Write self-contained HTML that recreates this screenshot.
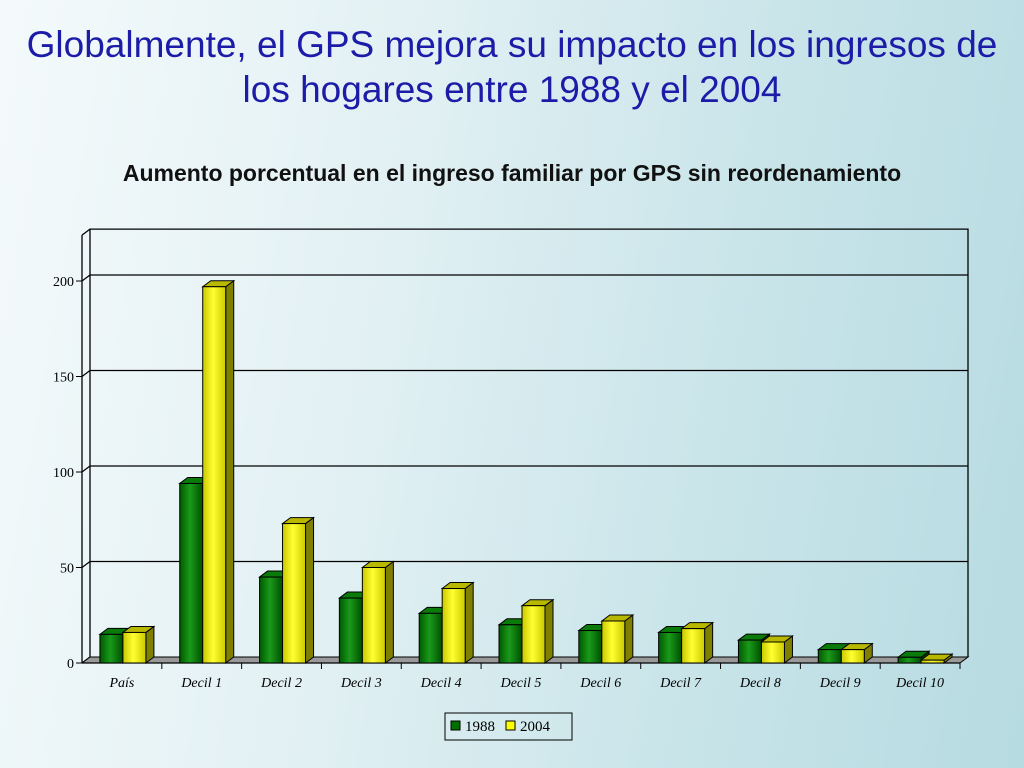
<!DOCTYPE html>
<html><head><meta charset="utf-8"><style>
html,body{margin:0;padding:0}
body{width:1024px;height:768px;overflow:hidden;position:relative;font-family:"Liberation Sans",sans-serif;
background:linear-gradient(100deg,#f4fafb 0%,#e3f1f4 35%,#c8e4e9 70%,#b6dbe1 100%);}
#title{position:absolute;left:0;top:22px;width:1024px;text-align:center;color:#1c1ca8;font-size:37px;line-height:45px}
#ctitle{position:absolute;left:0;top:160px;width:1024px;text-align:center;font-weight:bold;font-size:23px;color:#111}
svg{position:absolute;left:0;top:0}
</style></head><body>
<div id="title">Globalmente, el GPS mejora su impacto en los ingresos de<br>los hogares entre 1988 y el 2004</div>
<div id="ctitle">Aumento porcentual en el ingreso familiar por GPS sin reordenamiento</div>
<svg id="chart" width="1024" height="768"></svg>
<script>
const categories=["País","Decil 1","Decil 2","Decil 3","Decil 4","Decil 5","Decil 6","Decil 7","Decil 8","Decil 9","Decil 10"];
const series1988=[15,94,45,34,26,20,17,16,12,7,3];
const series2004=[16,197,73,50,39,30,22,18,11,7,1.5];
const yTicks=[0,50,100,150,200];
const seriesNames=["1988","2004"];
const NS="http://www.w3.org/2000/svg";
const svg=document.getElementById('chart');
const X0=82,X1=960,Y0=663,PX=1.91,DX=8,DY=-6,YMAX=224;
const y=v=>Y0-v*PX;
const catW=(X1-X0)/categories.length;
const cx=i=>X0+catW*(i+0.5);
function mk(tag,at,parent){const e=document.createElementNS(NS,tag);for(const k in at)e.setAttribute(k,at[k]);(parent||svg).appendChild(e);return e;}
const defs=mk('defs',{});
defs.innerHTML='<linearGradient id="gg" x1="0" x2="1"><stop offset="0" stop-color="#005a00"/><stop offset="0.45" stop-color="#1a9a1a"/><stop offset="1" stop-color="#005000"/></linearGradient><linearGradient id="yg" x1="0" x2="1"><stop offset="0" stop-color="#c8c800"/><stop offset="0.45" stop-color="#ffff30"/><stop offset="1" stop-color="#caca00"/></linearGradient>';
const wall=mk('path',{d:`M${X0} ${y(0)} L${X0+DX} ${y(0)+DY} L${X0+DX} ${y(YMAX)+DY} L${X1+DX} ${y(YMAX)+DY} L${X1+DX} ${y(0)+DY}`,fill:'none',stroke:'#000','stroke-width':1.3});


mk('line',{x1:X0,y1:y(0),x2:X0,y2:y(YMAX),stroke:'#000','stroke-width':1.3});
mk('line',{x1:X0,y1:y(YMAX),x2:X0+DX,y2:y(YMAX)+DY,stroke:'#000','stroke-width':1.3});
yTicks.forEach(t=>{
  if(t>0){const g=mk('path',{d:`M${X0} ${y(t)} L${X0+DX} ${y(t)+DY} L${X1+DX} ${y(t)+DY}`,fill:'none',stroke:'#000','stroke-width':1.2});
  
  }
  mk('line',{x1:X0-6,y1:y(t),x2:X0,y2:y(t),stroke:'#000'});
  const tx=mk('text',{x:X0-8,y:y(t)+5,'text-anchor':'end','font-family':'Liberation Serif','font-size':14});
  tx.textContent=t;
  
  
});
const fl=mk('path',{d:`M${X0} ${Y0} L${X0+DX} ${Y0+DY} L${X1+DX} ${Y0+DY} L${X1} ${Y0} Z`,fill:'#999',stroke:'#000','stroke-width':1});


mk('line',{x1:X0,y1:Y0,x2:X1,y2:Y0,stroke:'#000','stroke-width':1.3});
function bar(x,w,v,fill,side,top,name){
  const g=mk('g',{});
  
  
  const t=y(v);
  mk('path',{d:`M${x+w} ${Y0} L${x+w+DX} ${Y0+DY} L${x+w+DX} ${t+DY} L${x+w} ${t} Z`,fill:side,stroke:'#000','stroke-width':1},g);
  mk('path',{d:`M${x} ${t} L${x+DX} ${t+DY} L${x+w+DX} ${t+DY} L${x+w} ${t} Z`,fill:top,stroke:'#000','stroke-width':1},g);
  mk('rect',{x:x,y:t,width:w,height:Y0-t,fill:fill,stroke:'#000','stroke-width':1},g);
}
categories.forEach((c,i)=>{
  const c0=cx(i);
  bar(c0-22,23,series1988[i],'url(#gg)','#004000','#0a7a0a','bar-1988-'+i);
  bar(c0+1,23,series2004[i],'url(#yg)','#808000','#b8b800','bar-2004-'+i);
  mk('line',{x1:X0+catW*(i+1),y1:Y0,x2:X0+catW*(i+1),y2:Y0+6,stroke:'#000'});
  const tx=mk('text',{x:c0,y:Y0+24,'text-anchor':'middle','font-family':'Liberation Serif','font-style':'italic','font-size':14});
  tx.textContent=c;
  
  
});
const lg=mk('g',{});


mk('rect',{x:445,y:713,width:127,height:27,fill:'none',stroke:'#000'},lg);
seriesNames.forEach((n,k)=>{
  const e=mk('g',{},lg);
  
  
  const lx=451+k*55;
  mk('rect',{x:lx,y:721,width:9,height:9,fill:k?'#ffff00':'#007000',stroke:'#000'},e);
  const t=mk('text',{x:lx+14,y:731,'font-family':'Liberation Serif','font-size':15},e);
  t.textContent=n;
});
</script>
</body></html>
